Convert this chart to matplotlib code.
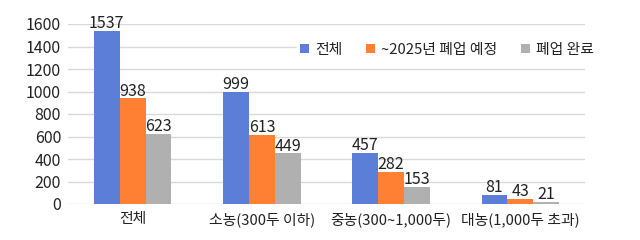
import matplotlib
matplotlib.use("Agg")
import matplotlib.pyplot as plt
import numpy as np

plt.rcParams['font.family'] = ['Noto Sans CJK KR', 'DejaVu Sans']

categories = ['전체', '소농(300두 이하)', '중농(300~1,000두)', '대농(1,000두 초과)']
series_names = ['전체', '~2025년 폐업 예정', '폐업 완료']
total = [1537, 999, 457, 81]
planned = [938, 613, 282, 43]
closed = [623, 449, 153, 21]
yticks = [0, 200, 400, 600, 800, 1000, 1200, 1400, 1600]

colors = ['#5B7FD8', '#FF8033', '#B0B0B0']

fig = plt.figure(figsize=(6.4, 2.4), dpi=100)
ax = fig.add_axes([68/640, 1 - 204/240, (585-68)/640, 180/240])

x = np.arange(len(categories))
w = 0.2
for i, (vals, c, name) in enumerate(zip([total, planned, closed], colors, series_names)):
    bars = ax.bar(x + (i - 1) * w, vals, w, color=c, label=name, zorder=3)
    for b, v in zip(bars, vals):
        ax.text(b.get_x() + b.get_width() / 2, v - 10, str(v), ha='center', va='bottom',
                fontsize=11.5, color='#222222', zorder=4)

ax.set_xlim(-0.5, 3.5)
ax.set_ylim(0, 1600)
ax.set_yticks(yticks)
ax.set_yticklabels([str(t) for t in yticks])
ax.set_xticks(x)
ax.set_xticklabels(categories)
ax.tick_params(axis='both', length=0, colors='#222222')
ax.tick_params(axis='y', pad=5, labelsize=11.5)
ax.tick_params(axis='x', pad=6, labelsize=10.7)
ax.grid(axis='y', color='#D9D9D9', linewidth=1, zorder=0)
for s in ax.spines.values():
    s.set_visible(False)

leg = ax.legend(loc='center', bbox_to_anchor=((447-68)/517, (204-50)/180), ncol=3,
                frameon=True, fontsize=10.7, handlelength=0.6, handleheight=0.6,
                handletextpad=0.4, columnspacing=1.6, borderpad=0.2,
                labelcolor='#222222')
leg.get_frame().set_edgecolor('white')
leg.get_frame().set_facecolor('white')
leg.get_frame().set_alpha(1)
leg.set_zorder(5)

fig.savefig('out.png', dpi=100)
